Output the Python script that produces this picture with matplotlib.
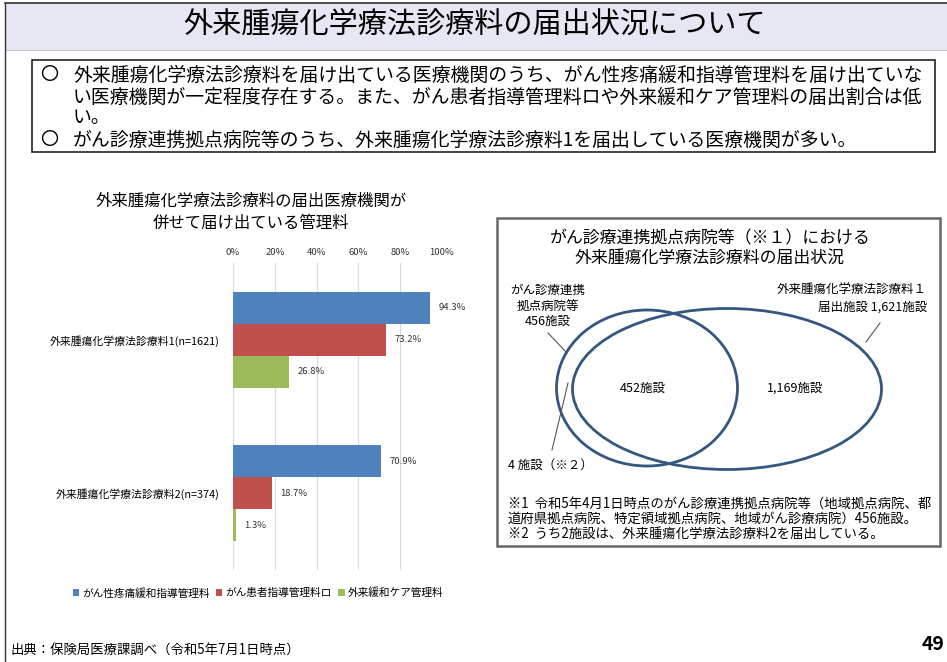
import matplotlib
matplotlib.use("Agg")
import matplotlib.pyplot as plt
from matplotlib.patches import Rectangle, Ellipse
import numpy as np

plt.rcParams['font.family'] = ['Noto Sans CJK JP', 'DejaVu Sans']

# data
categories = ['外来腫瘍化学療法診療料1(n=1621)', '外来腫瘍化学療法診療料2(n=374)']
series_names = ['がん性疼痛緩和指導管理料', 'がん患者指導管理料ロ', '外来緩和ケア管理料']
series_values = [[94.3, 70.9], [73.2, 18.7], [26.8, 1.3]]
series_colors = ['#4F81BD', '#C0504D', '#9BBB59']
x_ticks = [0, 20, 40, 60, 80, 100]

venn_counts = {'hosp': 456, 'both': 452, 'only1': 1169, 'fee1': 1621, 'hosp_only': 4}

W, H = 947, 662
fig = plt.figure(figsize=(W / 100, H / 100), dpi=100)

# overlay in pixel coordinates for the slide furniture
ov = fig.add_axes([0, 0, 1, 1])
ov.set_xlim(0, W)
ov.set_ylim(H, 0)
ov.axis('off')

# title band
ov.add_patch(Rectangle((5, 3), W - 5, 47, facecolor='#E7E7F3', edgecolor='none'))
ov.plot([5, W], [3, 3], color='#333333', lw=1.2)
ov.plot([5, W], [50, 50], color='#C8C8D0', lw=0.8)
ov.plot([5, 5], [3, H], color='#333333', lw=1.0)
ov.text(475, 25, '外来腫瘍化学療法診療料の届出状況について', fontsize=21, ha='center', va='center')

# summary box
ov.add_patch(Rectangle((32, 60), 903, 92, facecolor='white', edgecolor='#222222', lw=1.2))
fs = 13.6
ov.text(40, 75, '〇', fontsize=13, va='center')
ov.text(73, 75, '外来腫瘍化学療法診療料を届け出ている医療機関のうち、がん性疼痛緩和指導管理料を届け出ていな',
        fontsize=fs, va='center')
ov.text(73, 97, 'い医療機関が一定程度存在する。また、がん患者指導管理料ロや外来緩和ケア管理料の届出割合は低',
        fontsize=fs, va='center')
ov.text(73, 118, 'い。', fontsize=fs, va='center')
ov.text(40, 140, '〇', fontsize=13, va='center')
ov.text(73, 140, 'がん診療連携拠点病院等のうち、外来腫瘍化学療法診療料1を届出している医療機関が多い。',
        fontsize=fs, va='center')

# bar chart title
ov.text(251, 201, '外来腫瘍化学療法診療料の届出医療機関が', fontsize=11.8, ha='center', va='center')
ov.text(251, 223, '併せて届け出ている管理料', fontsize=11.8, ha='center', va='center')

# bar chart
ax = fig.add_axes([233 / W, 1 - 570 / H, 209 / W, 307 / H])
y = np.arange(len(categories)) + 0.5
bh = 0.208
for i, (name, vals, col) in enumerate(zip(series_names, series_values, series_colors)):
    pos = y + (i - 1) * bh
    ax.barh(pos, vals, height=bh, color=col, label=name, zorder=3)
    for p, v in zip(pos, vals):
        ax.text(v + 4, p, f'{v}%', fontsize=6.8, va='center', ha='left', color='#333333')
ax.set_xlim(0, 100)
ax.set_ylim(2, 0)
ax.set_xticks(x_ticks)
ax.set_xticklabels([f'{t}%' for t in x_ticks], fontsize=6.8, color='#333333')
ax.xaxis.tick_top()
ax.tick_params(axis='x', length=0, pad=4)
ax.set_yticks(y)
ax.set_yticklabels(categories, fontsize=7.8)
ax.tick_params(axis='y', length=0, pad=10)
ax.grid(axis='x', color='#D9D9D9', lw=0.8, zorder=0)
for s in ax.spines.values():
    s.set_visible(False)
ax.legend(loc='center', bbox_to_anchor=(0.12, -0.075), ncol=3, fontsize=7.7, frameon=False,
          handlelength=0.6, handleheight=0.6, handletextpad=0.3, columnspacing=0.6)

# venn box
ov.add_patch(Rectangle((497, 218), 443, 328, facecolor='white', edgecolor='#666666', lw=1.8))
ov.text(710, 238, 'がん診療連携拠点病院等（※１）における', fontsize=12.2, ha='center', va='center')
ov.text(710, 258, '外来腫瘍化学療法診療料の届出状況', fontsize=12.2, ha='center', va='center')

ecol = '#34577F'
ov.add_patch(Ellipse((647, 388), 181, 156, facecolor='none', edgecolor=ecol, lw=2.0))
ov.add_patch(Ellipse((727, 389), 309, 161, facecolor='none', edgecolor=ecol, lw=2.0))

vfs = 9.0
ov.text(548, 290, 'がん診療連携', fontsize=vfs, ha='center', va='center')
ov.text(548, 306, '拠点病院等', fontsize=vfs, ha='center', va='center')
ov.text(548, 321, f"{venn_counts['hosp']}施設", fontsize=vfs, ha='center', va='center')
ov.plot([548, 567], [333, 353], color='#555555', lw=0.8)

ov.text(927, 290, '外来腫瘍化学療法診療料１', fontsize=vfs, ha='right', va='center')
ov.text(927, 307, f"届出施設 {venn_counts['fee1']:,}施設", fontsize=vfs, ha='right', va='center')
ov.plot([880, 866], [323, 342], color='#555555', lw=0.8)

ov.text(643, 388, f"{venn_counts['both']}施設", fontsize=vfs, ha='center', va='center')
ov.text(795, 388, f"{venn_counts['only1']:,}施設", fontsize=vfs, ha='center', va='center')

ov.text(508, 465, f"{venn_counts['hosp_only']} 施設（※２）", fontsize=vfs, ha='left', va='center')
ov.plot([552, 568], [450, 383], color='#555555', lw=0.8)

nfs = 9.6
ov.text(508, 504, '※1  令和5年4月1日時点のがん診療連携拠点病院等（地域拠点病院、都', fontsize=nfs, va='center')
ov.text(508, 519, '道府県拠点病院、特定領域拠点病院、地域がん診療病院）456施設。', fontsize=nfs, va='center')
ov.text(508, 534, '※2  うち2施設は、外来腫瘍化学療法診療料2を届出している。', fontsize=nfs, va='center')

# footer
ov.text(10, 650, '出典：保険局医療課調べ（令和5年7月1日時点）', fontsize=9.6, va='center')
ov.text(945, 645, '49', fontsize=14, fontweight='bold', va='center', ha='right')

fig.savefig('out.png', dpi=100)
